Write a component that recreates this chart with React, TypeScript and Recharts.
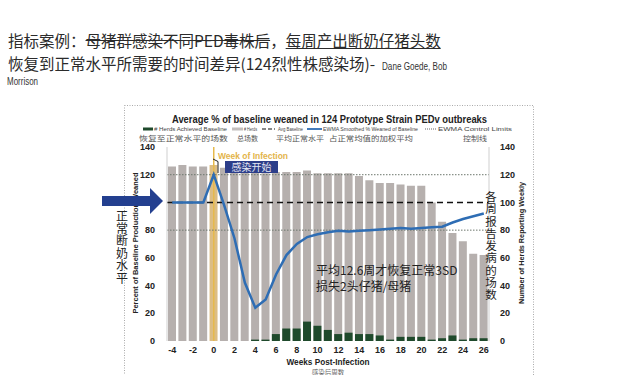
import React from 'react';
import { ComposedChart, Bar, Line, XAxis, YAxis, ReferenceLine, Cell } from 'recharts';

// weeks relative to infection (week 0)
const weeks = [-4, -3, -2, -1, 0, 1, 2, 3, 4, 5, 6, 7, 8, 9, 10, 11, 12, 13, 14, 15, 16, 17, 18, 19, 20, 21, 22, 23, 24, 25, 26];
// # Herds reporting weekly (right axis)
const herdsReporting = [126, 127, 126, 126, 127, 125, 124, 123, 122, 121, 122, 122, 122, 123, 121, 121, 121, 121, 119, 116, 114, 114, 113, 112, 112, 100, 86, 78, 72, 63, 62];
// # Herds achieved baseline (right axis)
const herdsAchieved = [0, 0, 0, 0, 0, 0, 0, 0, 1, 1, 5, 9, 9, 14, 11, 8, 5, 6, 5, 5, 4, 1, 3, 3, 3, 1, 2, 4, 1, 2, 2];
// EWMA smoothed % weaned of baseline (left axis)
const ewmaPct = [100, 100, 100, 100, 120, 98, 74, 42, 24, 30, 48, 62, 70, 75, 77, 78.5, 79.5, 79, 79.5, 80, 80.5, 81, 81.5, 81, 81.5, 82, 82.5, 85.5, 88, 90, 92];
const axisTicks = [0, 20, 40, 60, 80, 100, 120, 140];
const avgBaseline = 100;
const controlLimits = [120, 80];

const data = weeks.map((week, i) => ({
  week,
  herds: herdsReporting[i],
  achieved: herdsAchieved[i],
  ewma: ewmaPct[i],
}));

const cjk = '"Noto Sans CJK SC", sans-serif';
const sans = '"Liberation Sans", Arial, sans-serif';
const tickStyle = { fontSize: 9, fontWeight: 700, fill: '#222', fontFamily: sans };

export default function App() {
  return (
    <div style={{ position: 'fixed', left: 0, top: 0, width: 640, height: 375, background: '#fff', overflow: 'hidden' }}>
      <div style={{ position: 'absolute', left: 0, top: 0 }}>
        <ComposedChart width={640} height={375} data={data} margin={{ top: 147, right: 121, bottom: 14, left: 137 }}>
          <XAxis xAxisId="a" dataKey="week" interval={1} tickLine={false} axisLine={false} tick={tickStyle} tickSize={0} tickMargin={5.5} height={20} />
          <XAxis xAxisId="b" dataKey="week" hide />
          <YAxis yAxisId="left" domain={[0, 140]} ticks={axisTicks} width={30} tickSize={0} tickMargin={12}
            tick={tickStyle} tickLine={false} axisLine={{ stroke: '#cfcfcf' }} />
          <YAxis yAxisId="right" orientation="right" domain={[0, 140]} ticks={axisTicks} width={30} tickSize={0} tickMargin={11}
            tick={tickStyle} tickLine={false} axisLine={{ stroke: '#cfcfcf' }} />
          <ReferenceLine xAxisId="a" yAxisId="left" x={0} stroke="#e6b94c" strokeWidth={1.5} />
          <Bar xAxisId="a" yAxisId="right" dataKey="herds" barSize={8} isAnimationActive={false}>
            {data.map(d => (
              <Cell key={d.week} fill={d.week === 0 ? '#dcbd84' : '#b6b0ae'} />
            ))}
          </Bar>
          <Bar xAxisId="b" yAxisId="right" dataKey="achieved" barSize={8} fill="#1f4a2c" isAnimationActive={false} />
          {controlLimits.map(v => (
            <ReferenceLine key={v} xAxisId="a" yAxisId="left" y={v} stroke="#6d776d" strokeDasharray="1.5 1.5" strokeWidth={1} />
          ))}
          <ReferenceLine xAxisId="a" yAxisId="left" y={avgBaseline} stroke="#111" strokeDasharray="6 4" strokeWidth={1.5} />
          <Line xAxisId="a" yAxisId="left" dataKey="ewma" type="linear" stroke="#2e6db4" strokeWidth={2.5} dot={false} isAnimationActive={false} />
        </ComposedChart>
      </div>

      {/* slide title */}
      <div style={{ position: 'absolute', left: 8, top: 30, fontFamily: cjk, fontSize: 15.5, lineHeight: '20px', color: '#2b2b2b', whiteSpace: 'nowrap' }}>
        指标案例：<span style={{ textDecoration: 'line-through' }}>母猪群感染不同PED毒株后</span>，<span style={{ textDecoration: 'underline' }}>每周产出断奶仔猪头数</span>
      </div>
      <div style={{ position: 'absolute', left: 8, top: 53, fontFamily: cjk, fontSize: 15.5, lineHeight: '20px', color: '#2b2b2b', whiteSpace: 'nowrap' }}>
        恢复到正常水平所需要的时间差异(124烈性株感染场)-
      </div>

      <svg width={640} height={375} style={{ position: 'absolute', left: 0, top: 0, pointerEvents: 'none' }}>
        <text x={382} y={70} fontFamily={sans} fontSize={10.5} fill="#333" textLength={65} lengthAdjust="spacingAndGlyphs">Dane Goede, Bob</text>
        <text x={7} y={85} fontFamily={sans} fontSize={10.5} fill="#333" textLength={31} lengthAdjust="spacingAndGlyphs">Morrison</text>

        {/* chart frame */}
        <rect x={124.5} y={105.5} width={409} height={290} fill="none" stroke="#aaa" strokeDasharray="1 1.5" />

        <text x={172} y={122.5} fontFamily={sans} fontSize={11} fontWeight={700} fill="#222" textLength={315} lengthAdjust="spacingAndGlyphs">
          Average % of baseline weaned in 124 Prototype Strain PEDv outbreaks
        </text>

        {/* legend */}
        <rect x={143} y={127.5} width={10} height={3} fill="#1f4a2c" />
        <text x={154} y={130.5} fontFamily={sans} fontSize={5.5} fill="#444" textLength={73} lengthAdjust="spacingAndGlyphs"># Herds Achieved Baseline</text>
        <rect x={232} y={127.5} width={11} height={3} fill="#c4bfbd" />
        <text x={244} y={130.5} fontFamily={sans} fontSize={5.5} fill="#444" textLength={13} lengthAdjust="spacingAndGlyphs"># Herds</text>
        <line x1={262} x2={275} y1={129} y2={129} stroke="#111" strokeWidth={1.2} strokeDasharray="4 2" />
        <text x={278} y={130.5} fontFamily={sans} fontSize={5.5} fill="#444" textLength={25} lengthAdjust="spacingAndGlyphs">Avg Baseline</text>
        <line x1={307} x2={322} y1={129} y2={129} stroke="#2e6db4" strokeWidth={1.8} />
        <text x={323} y={130.5} fontFamily={sans} fontSize={5.5} fill="#444" textLength={95} lengthAdjust="spacingAndGlyphs">EWMA Smoothed % Weaned of Baseline</text>
        <line x1={425} x2={437} y1={129} y2={129} stroke="#666" strokeWidth={1} strokeDasharray="1 1" />
        <text x={438} y={130.5} fontFamily={sans} fontSize={5.5} fill="#444" textLength={74} lengthAdjust="spacingAndGlyphs">EWMA Control Limits</text>

        <g fontFamily={cjk} fontSize={7} fill="#555">
          <text x={139} y={140.5} textLength={89} lengthAdjust="spacingAndGlyphs">恢复至正常水平的场数</text>
          <text x={237} y={140.5} textLength={21} lengthAdjust="spacingAndGlyphs">总场数</text>
          <text x={276} y={140.5} textLength={48} lengthAdjust="spacingAndGlyphs">平均正常水平</text>
          <text x={329} y={140.5} textLength={84} lengthAdjust="spacingAndGlyphs">占正常均值的加权平均</text>
          <text x={463} y={140.5} textLength={24} lengthAdjust="spacingAndGlyphs">控制线</text>
        </g>

        {/* week of infection callout */}
        <text x={218} y={158.5} fontFamily={sans} fontSize={9} fontWeight={700} fill="#e3b44a" textLength={70} lengthAdjust="spacingAndGlyphs">Week of Infection</text>
        <path d="M213 159 L218 161.5 L218 173" fill="none" stroke="#222" strokeWidth={1} />
        <rect x={225} y={161} width={53} height={12} fill="#2c3e8a" />
        <text x={251.5} y={171} textAnchor="middle" fontFamily={cjk} fontSize={10} fill="#e4e6f2">感染开始</text>

        {/* axis titles */}
        <text transform="translate(138,243) rotate(-90)" textAnchor="middle" fontFamily={sans} fontSize={7.5} fontWeight={700} fill="#222"
          textLength={141} lengthAdjust="spacingAndGlyphs">Percent of Baseline Production Weaned</text>
        <text transform="translate(524,243) rotate(-90)" textAnchor="middle" fontFamily={sans} fontSize={7.5} fontWeight={700} fill="#222"
          textLength={122} lengthAdjust="spacingAndGlyphs">Number of Herds Reporting Weekly</text>
        <text x={328} y={365} textAnchor="middle" fontFamily={sans} fontSize={9.5} fontWeight={700} fill="#222"
          textLength={83} lengthAdjust="spacingAndGlyphs">Weeks Post-Infection</text>
        <text x={328} y={374.5} textAnchor="middle" fontFamily={cjk} fontSize={6.5} fill="#666">感染后周数</text>

        {/* left arrow and vertical notes */}
        <rect x={102} y={196} width={49} height={10} fill="#233f8f" />
        <polygon points="150,188 163,201 150,214" fill="#233f8f" />
        <text x={122} y={210} fontFamily={cjk} fontSize={12} fill="#222" letterSpacing={0.4}
          style={{ writingMode: 'vertical-rl' }}>正常断奶水平</text>
        <text x={491} y={191} fontFamily={cjk} fontSize={11.5} fill="#222" letterSpacing={0.75}
          style={{ writingMode: 'vertical-rl' }}>各周报告发病的场数</text>

        <g fontFamily={cjk} fontSize={12} fill="#222">
          <text x={316} y={274.5}>平均12.6周才恢复正常3SD</text>
          <text x={316} y={290.5}>损失2头仔猪/母猪</text>
        </g>
      </svg>
    </div>
  );
}
